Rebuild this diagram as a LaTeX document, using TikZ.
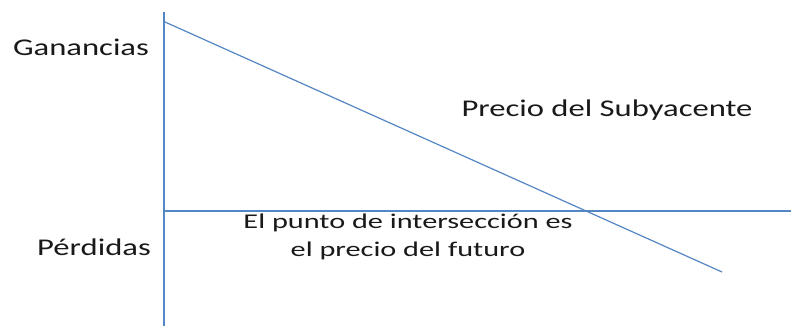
\documentclass[tikz,border=0pt]{standalone}
\usepackage{fontspec}
\setmainfont{Carlito}
\definecolor{linea}{RGB}{84,134,196}
\definecolor{texto}{RGB}{25,25,25}
\tikzset{
  eje/.style={color=linea, line width=1.2pt},
  rotulo/.style={anchor=base, inner sep=0pt, text=texto, xscale=1.36,
    font=\fontsize{24}{28}\selectfont},
  nota/.style={rotulo, xscale=1.06, font=\fontsize{21}{25}\selectfont}
}
\begin{document}
\begin{tikzpicture}[x=1pt,y=-1pt]
        \useasboundingbox (0,0) rectangle (791,326);
        % ejes
        \coordinate (arriba) at (164,12);
        \coordinate (abajo) at (164,326);
        \coordinate (origen) at (164,211);
        \coordinate (derecha) at (791,211);
        \draw [eje] (arriba) -- (abajo);
        \draw [eje] (origen) -- (derecha);
        % recta
        \coordinate (inicio) at (165,22);
        \coordinate (fin) at (722,272);
        \draw [eje] (inicio) -- (fin);
        % textos
        \node [rotulo] (ganancias) at (81,56) {Ganancias};
        \node [rotulo] (perdidas) at (94,255) {Pérdidas};
        \node [rotulo] (subyacente) at (607,117) {Precio del Subyacente};
        \node [nota] (punto) at (408,228) {El punto de intersección es};
        \node [nota] (futuro) at (408,256) {el precio del futuro};
    \end{tikzpicture}
\end{document}
